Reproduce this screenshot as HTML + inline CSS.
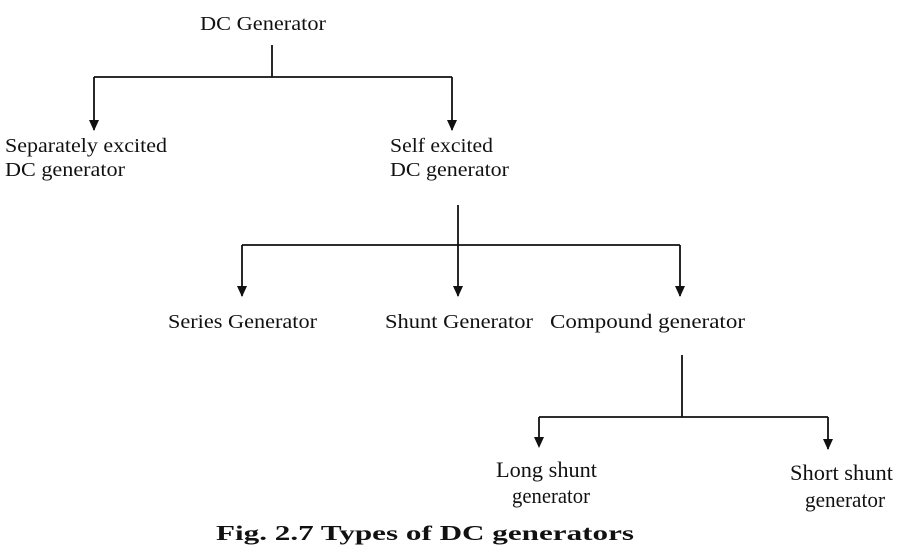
<!DOCTYPE html>
<html><head><meta charset="utf-8"><style>
html,body{margin:0;padding:0;background:#fff;}
svg{display:block;}
text{font-family:"Liberation Serif",serif;fill:#111;}
</style></head><body>
<svg width="900" height="554" viewBox="0 0 900 554" xmlns="http://www.w3.org/2000/svg">
<g stroke="#111" stroke-width="1.8" fill="none">
<line x1="272" y1="45" x2="272" y2="77"/>
<line x1="94" y1="77" x2="452" y2="77"/>
<line x1="94" y1="77" x2="94" y2="130"/>
<path d="M89,120 L99,120 L94,131 Z" fill="#111" stroke="none"/>
<line x1="452" y1="77" x2="452" y2="130"/>
<path d="M447,120 L457,120 L452,131 Z" fill="#111" stroke="none"/>

<line x1="458" y1="205" x2="458" y2="296"/>
<line x1="242" y1="245" x2="680" y2="245"/>
<line x1="242" y1="245" x2="242" y2="296"/>
<path d="M237,286 L247,286 L242,297 Z" fill="#111" stroke="none"/>
<path d="M453,286 L463,286 L458,297 Z" fill="#111" stroke="none"/>
<line x1="680" y1="245" x2="680" y2="296"/>
<path d="M675,286 L685,286 L680,297 Z" fill="#111" stroke="none"/>

<line x1="682" y1="355" x2="682" y2="417"/>
<line x1="539" y1="417" x2="828" y2="417"/>
<line x1="539" y1="417" x2="539" y2="446"/>
<path d="M534,437 L544,437 L539,448 Z" fill="#111" stroke="none"/>
<line x1="828" y1="417" x2="828" y2="449"/>
<path d="M823,439 L833,439 L828,450 Z" fill="#111" stroke="none"/>
</g>
<g font-size="20">
<text x="200" y="30" textLength="126" lengthAdjust="spacingAndGlyphs">DC Generator</text>
<text x="5" y="152" textLength="162" lengthAdjust="spacingAndGlyphs">Separately excited</text>
<text x="5" y="176" textLength="120" lengthAdjust="spacingAndGlyphs">DC generator</text>
<text x="390" y="152" textLength="103" lengthAdjust="spacingAndGlyphs">Self excited</text>
<text x="390" y="176" textLength="119" lengthAdjust="spacingAndGlyphs">DC generator</text>
<text x="168" y="328" textLength="149" lengthAdjust="spacingAndGlyphs">Series Generator</text>
<text x="385" y="328" textLength="148" lengthAdjust="spacingAndGlyphs">Shunt Generator</text>
<text x="550" y="328" textLength="195" lengthAdjust="spacingAndGlyphs">Compound generator</text>
</g>
<g font-size="22">
<text x="496" y="477" textLength="101" lengthAdjust="spacingAndGlyphs">Long shunt</text>
<text x="512" y="503" textLength="78" lengthAdjust="spacingAndGlyphs">generator</text>
<text x="790" y="480" textLength="103" lengthAdjust="spacingAndGlyphs">Short shunt</text>
<text x="805" y="507" textLength="80" lengthAdjust="spacingAndGlyphs">generator</text>
</g>
<text x="216" y="540" font-size="21" font-weight="bold" textLength="418" lengthAdjust="spacingAndGlyphs">Fig. 2.7 Types of DC generators</text>
</svg>
</body></html>
